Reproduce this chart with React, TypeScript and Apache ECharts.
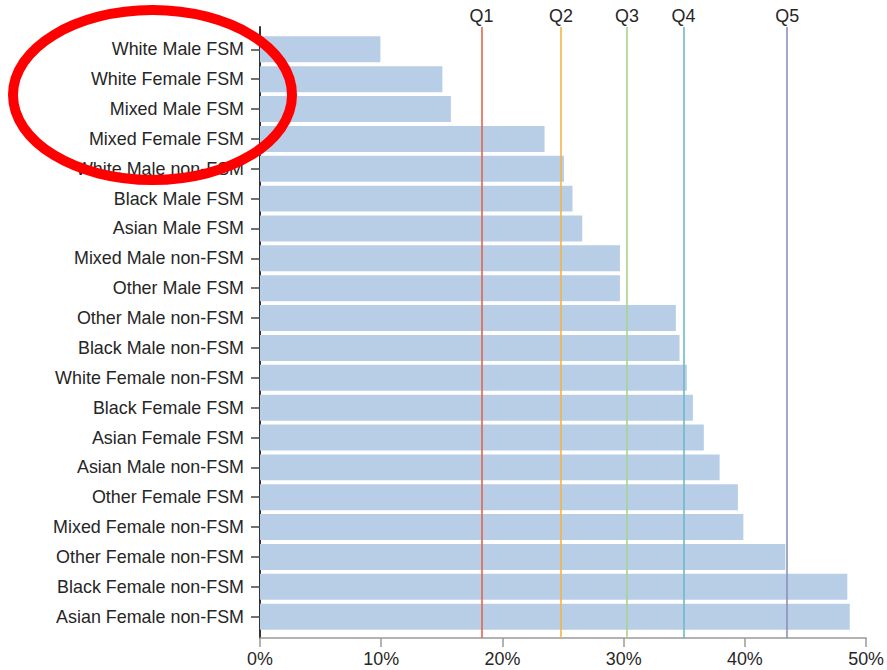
import React, { useEffect, useRef } from "react";
import * as echarts from "echarts";

const categories = [
  "White Male FSM",
  "White Female FSM",
  "Mixed Male FSM",
  "Mixed Female FSM",
  "White Male non-FSM",
  "Black Male FSM",
  "Asian Male FSM",
  "Mixed Male non-FSM",
  "Other Male FSM",
  "Other Male non-FSM",
  "Black Male non-FSM",
  "White Female non-FSM",
  "Black Female FSM",
  "Asian Female FSM",
  "Asian Male non-FSM",
  "Other Female FSM",
  "Mixed Female non-FSM",
  "Other Female non-FSM",
  "Black Female non-FSM",
  "Asian Female non-FSM",
];

const values = [
  9.9, 15.0, 15.7, 23.4, 25.0, 25.7, 26.5, 29.6, 29.6, 34.2, 34.5, 35.1, 35.6,
  36.5, 37.8, 39.3, 39.75, 43.2, 48.3, 48.5,
];

const quintileLabels = ["Q1", "Q2", "Q3", "Q4", "Q5"];
const quintileValues = [18.27, 24.83, 30.28, 34.93, 43.49];
const quintileColors = ["#e2664a", "#f2b447", "#a8d48e", "#6fb9c9", "#8d91b6"];

const xTicks = { min: 0, max: 50, interval: 10 };

const FONT = '"Liberation Sans", Arial, Helvetica, sans-serif';
const TEXT = "#262626";
const FS = 17.9;

export default function App() {
  const ref = useRef<HTMLDivElement>(null);

  useEffect(() => {
    if (!ref.current) return;
    const chart = echarts.init(ref.current, null, { renderer: "svg" });

    const option: any = {
      animation: false,
      backgroundColor: "#fff",
      textStyle: { fontFamily: FONT },
      grid: [
        { left: 260, right: 19, top: 34.4, bottom: 38.4, containLabel: false },
        { left: 260, right: 19, top: 27, bottom: 32, containLabel: false },
      ],
      xAxis: [
        {
          gridIndex: 0,
          type: "value",
          min: xTicks.min,
          max: xTicks.max,
          interval: xTicks.interval,
          show: false,
        },
        {
          gridIndex: 1,
          type: "value",
          position: "bottom",
          min: xTicks.min,
          max: xTicks.max,
          interval: xTicks.interval,
          axisLine: { show: true, lineStyle: { color: "#9a9a9a", width: 1.5 } },
          axisTick: { show: true, length: 9, lineStyle: { color: "#9a9a9a", width: 1.5 } },
          axisLabel: {
            formatter: "{value}%",
            fontSize: FS,
            color: TEXT,
            fontFamily: FONT,
            margin: 12,
          },
          splitLine: { show: false },
        },
      ],
      yAxis: [
        {
          gridIndex: 0,
          type: "category",
          inverse: true,
          data: categories,
          axisLine: { show: false },
          axisTick: {
            show: true,
            alignWithLabel: true,
            length: 9,
            lineStyle: { color: "#444", width: 1.5 },
          },
          axisLabel: {
            fontSize: FS,
            color: TEXT,
            fontFamily: FONT,
            margin: 16,
          },
          splitLine: { show: false },
        },
        {
          gridIndex: 1,
          type: "value",
          min: 0,
          max: 1,
          axisLine: { show: true, onZero: false, lineStyle: { color: "#333", width: 2 } },
          axisTick: { show: false },
          axisLabel: { show: false },
          splitLine: { show: false },
        },
      ],
      series: [
        {
          type: "bar",
          xAxisIndex: 0,
          yAxisIndex: 0,
          data: values,
          barCategoryGap: "13%",
          itemStyle: { color: "#b8cde6" },
          z: 2,
        },
        {
          type: "scatter",
          xAxisIndex: 1,
          yAxisIndex: 1,
          symbolSize: 0,
          silent: true,
          data: quintileValues.map((v) => [v, 1]),
          z: 5,
          markLine: {
            silent: true,
            symbol: ["none", "none"],
            animation: false,
            z: 5,
            label: {
              show: true,
              position: "end",
              formatter: "{b}",
              fontSize: FS,
              color: TEXT,
              fontFamily: FONT,
              distance: 2,
            },
            data: quintileValues.map((v, i) => ({
              name: quintileLabels[i],
              xAxis: v,
              lineStyle: { color: quintileColors[i], width: 1.6, type: "solid" },
            })),
          },
        },
      ],
      graphic: [
        {
          type: "ellipse",
          shape: { cx: 152.5, cy: 95, rx: 139.5, ry: 85 },
          style: { fill: "none", stroke: "#ff0000", lineWidth: 10 },
          z: 100,
          silent: true,
        },
      ],
    };

    chart.setOption(option);
    return () => chart.dispose();
  }, []);

  return (
    <div
      ref={ref}
      style={{ position: "fixed", left: 0, top: 0, width: 887, height: 670 }}
    />
  );
}
